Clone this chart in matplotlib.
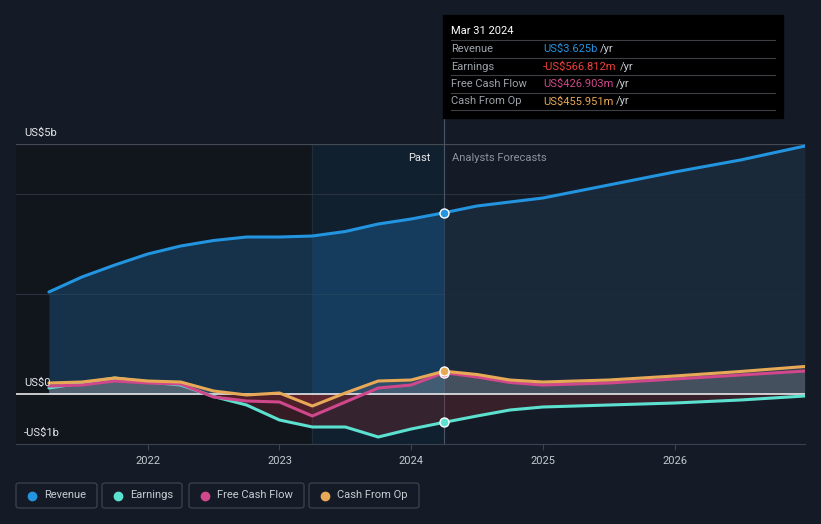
import matplotlib
matplotlib.use("Agg")
import matplotlib.pyplot as plt
from matplotlib.patches import FancyBboxPatch, Rectangle
import numpy as np

plt.rcParams['font.family'] = ['Roboto', 'DejaVu Sans']

# data (US$ billions, fractional years)
past_t = [2021.25, 2021.5, 2021.75, 2022.0, 2022.25, 2022.5, 2022.75,
          2023.0, 2023.25, 2023.5, 2023.75, 2024.0, 2024.25]
revenue_past = [2.04, 2.34, 2.58, 2.80, 2.96, 3.07, 3.14, 3.14, 3.16, 3.25, 3.40, 3.50, 3.625]
earnings_past = [0.12, 0.22, 0.32, 0.24, 0.18, -0.05, -0.22, -0.52, -0.66, -0.66, -0.86, -0.70, -0.567]
fcf_past = [0.16, 0.18, 0.26, 0.22, 0.20, -0.06, -0.14, -0.16, -0.44, -0.16, 0.12, 0.18, 0.427]
cfo_past = [0.22, 0.24, 0.32, 0.26, 0.24, 0.06, -0.02, 0.02, -0.24, 0.02, 0.26, 0.28, 0.456]

fc_t = [2024.25, 2024.5, 2024.75, 2025.0, 2025.5, 2026.0, 2026.5, 2026.99]
revenue_fc = [3.625, 3.76, 3.84, 3.92, 4.18, 4.44, 4.68, 4.96]
earnings_fc = [-0.567, -0.44, -0.32, -0.26, -0.22, -0.18, -0.12, -0.04]
fcf_fc = [0.427, 0.34, 0.23, 0.18, 0.22, 0.30, 0.38, 0.46]
cfo_fc = [0.456, 0.39, 0.28, 0.24, 0.28, 0.36, 0.45, 0.55]

years = [2022, 2023, 2024, 2025, 2026]
names = ["Revenue", "Earnings", "Free Cash Flow", "Cash From Op"]
colors = ["#2394df", "#5ce1d0", "#d0488b", "#e8a957"]

bg = "#151b26"
W, H = 821, 524
fig = plt.figure(figsize=(W / 100, H / 100), dpi=100, facecolor=bg)
ax = fig.add_axes([16 / W, (H - 444) / H, (805 - 16) / W, 300 / H])
ax.set_facecolor("#151b26")
ax.set_xlim(2021.0, 2026.99)
ax.set_ylim(-1, 5)

now = 2024.25
band = 2023.25
ax.axvspan(2021.0, band, color="#11151c", zorder=0)
ax.axvspan(band, now, color="#11202f", zorder=0)
ax.axvline(band, color="#1f2c3a", lw=0.8, zorder=1)

ax.axhline(5, color="#444a54", lw=0.9, zorder=1)
for g in [2, 4]:
    ax.axhline(g, color="#2a323e", lw=0.8, zorder=1)
ax.axvline(now, ymax=1.1, color="#4a5566", lw=0.8, zorder=1, clip_on=False)

t_all = np.array(past_t + fc_t[1:])
series = [revenue_past + revenue_fc[1:], earnings_past + earnings_fc[1:],
          fcf_past + fcf_fc[1:], cfo_past + cfo_fc[1:]]

# fills
rev = np.array(series[0])
ax.fill_between(t_all, rev, 0, where=t_all <= band, color="#1b4a72", alpha=0.55, lw=0, zorder=2)
ax.fill_between(t_all, rev, 0, where=(t_all >= band) & (t_all <= now), color="#1a5482",
                alpha=0.55, lw=0, zorder=2)
ax.fill_between(t_all, rev, 0, where=t_all >= now, color="#1b2b3d", alpha=0.9, lw=0, zorder=2)
for s in series[1:]:
    s = np.array(s)
    ax.fill_between(t_all, s, 0, where=s >= 0, interpolate=True,
                    color="#8a8f98", alpha=0.22, lw=0, zorder=2)
    ax.fill_between(t_all, s, 0, where=s < 0, interpolate=True,
                    color="#7a2a33", alpha=0.35, lw=0, zorder=2)

ax.axhline(0, color="#e8e8ea", lw=1.2, zorder=3)

for s, c in zip(series, colors):
    ax.plot(t_all, s, color=c, lw=2.2, solid_joinstyle="round",
            solid_capstyle="round", zorder=4)
    idx = past_t.index(now)
    ax.scatter([now], [s[idx]], s=42, color=c, edgecolor="white", lw=1.0, zorder=5)

for side in ["top", "right", "left"]:
    ax.spines[side].set_visible(False)
ax.spines["bottom"].set_color("#3a4250")
ax.spines["bottom"].set_position(("data", -1))
ax.set_yticks([])
ax.set_xticks(years)
ax.set_xticklabels([str(y) for y in years], color="#c4c8cf", fontsize=8)
ax.tick_params(axis="x", length=4, color="#3a4250", pad=5)

# y labels
for v, lab in [(5, "US$5b"), (0, "US$0"), (-1, "-US$1b")]:
    ax.text(2021.06, v + 0.13, lab, color="#e6e8eb", fontsize=8, va="bottom", ha="left", zorder=6)

ax.text(now - 0.1, 4.72, "Past", color="#e6e8eb", fontsize=8, ha="right", va="center")
ax.text(now + 0.06, 4.72, "Analysts Forecasts", color="#8d939c", fontsize=8, ha="left", va="center")

# tooltip
fig.patches.append(Rectangle((443 / W, 1 - 118 / H), 340 / W, 103 / H,
                             transform=fig.transFigure, color="black", zorder=10))
fig.text(451 / W, 1 - 31 / H, "Mar 31 2024", color="white", fontsize=8, zorder=11, va="center")
rows = [("Revenue", "US$3.625b", colors[0]),
        ("Earnings", "-US$566.812m", "#f0403c"),
        ("Free Cash Flow", "US$426.903m", colors[2]),
        ("Cash From Op", "US$455.951m", colors[3])]
for i, (lab, val, c) in enumerate(rows):
    yc = 49 + i * 17.5
    fig.text(451 / W, 1 - yc / H, lab, color="#9ea3ab", fontsize=8, va="center", zorder=11)
    t = fig.text(543 / W, 1 - yc / H, val, color=c, fontsize=8, va="center", zorder=11)
    fig.canvas.draw()
    bb = t.get_window_extent()
    fig.text(bb.x1 / W + 3 / W, 1 - yc / H, "/yr", color="#c8ccd2", fontsize=8, va="center", zorder=11)
    yl = yc - 9
    fig.add_artist(plt.Line2D([451 / W, 775 / W], [1 - yl / H, 1 - yl / H],
                              color="#3c3f44", lw=0.8, zorder=11))
fig.add_artist(plt.Line2D([451 / W, 775 / W], [1 - 110 / H, 1 - 110 / H],
                          color="#3c3f44", lw=0.8, zorder=11))

# legend
boxes = [(16, 97), (102, 182), (189, 304), (309, 419)]
for (x0, x1), n, c in zip(boxes, names, colors):
    fig.patches.append(FancyBboxPatch((x0 / W, 1 - 508 / H), (x1 - x0) / W, 25 / H,
                                      boxstyle="round,pad=0,rounding_size=0.004",
                                      transform=fig.transFigure, facecolor="none",
                                      edgecolor="#3c4350", lw=0.9))
    fig.add_artist(plt.Line2D([(x0 + 16) / W], [1 - 495.5 / H], marker="o", ms=6,
                              color=c, lw=0))
    fig.text((x0 + 28) / W, 1 - 495.5 / H, n, color="#c8ccd2", fontsize=8, va="center")

fig.savefig("out.png", dpi=100, facecolor=bg)
